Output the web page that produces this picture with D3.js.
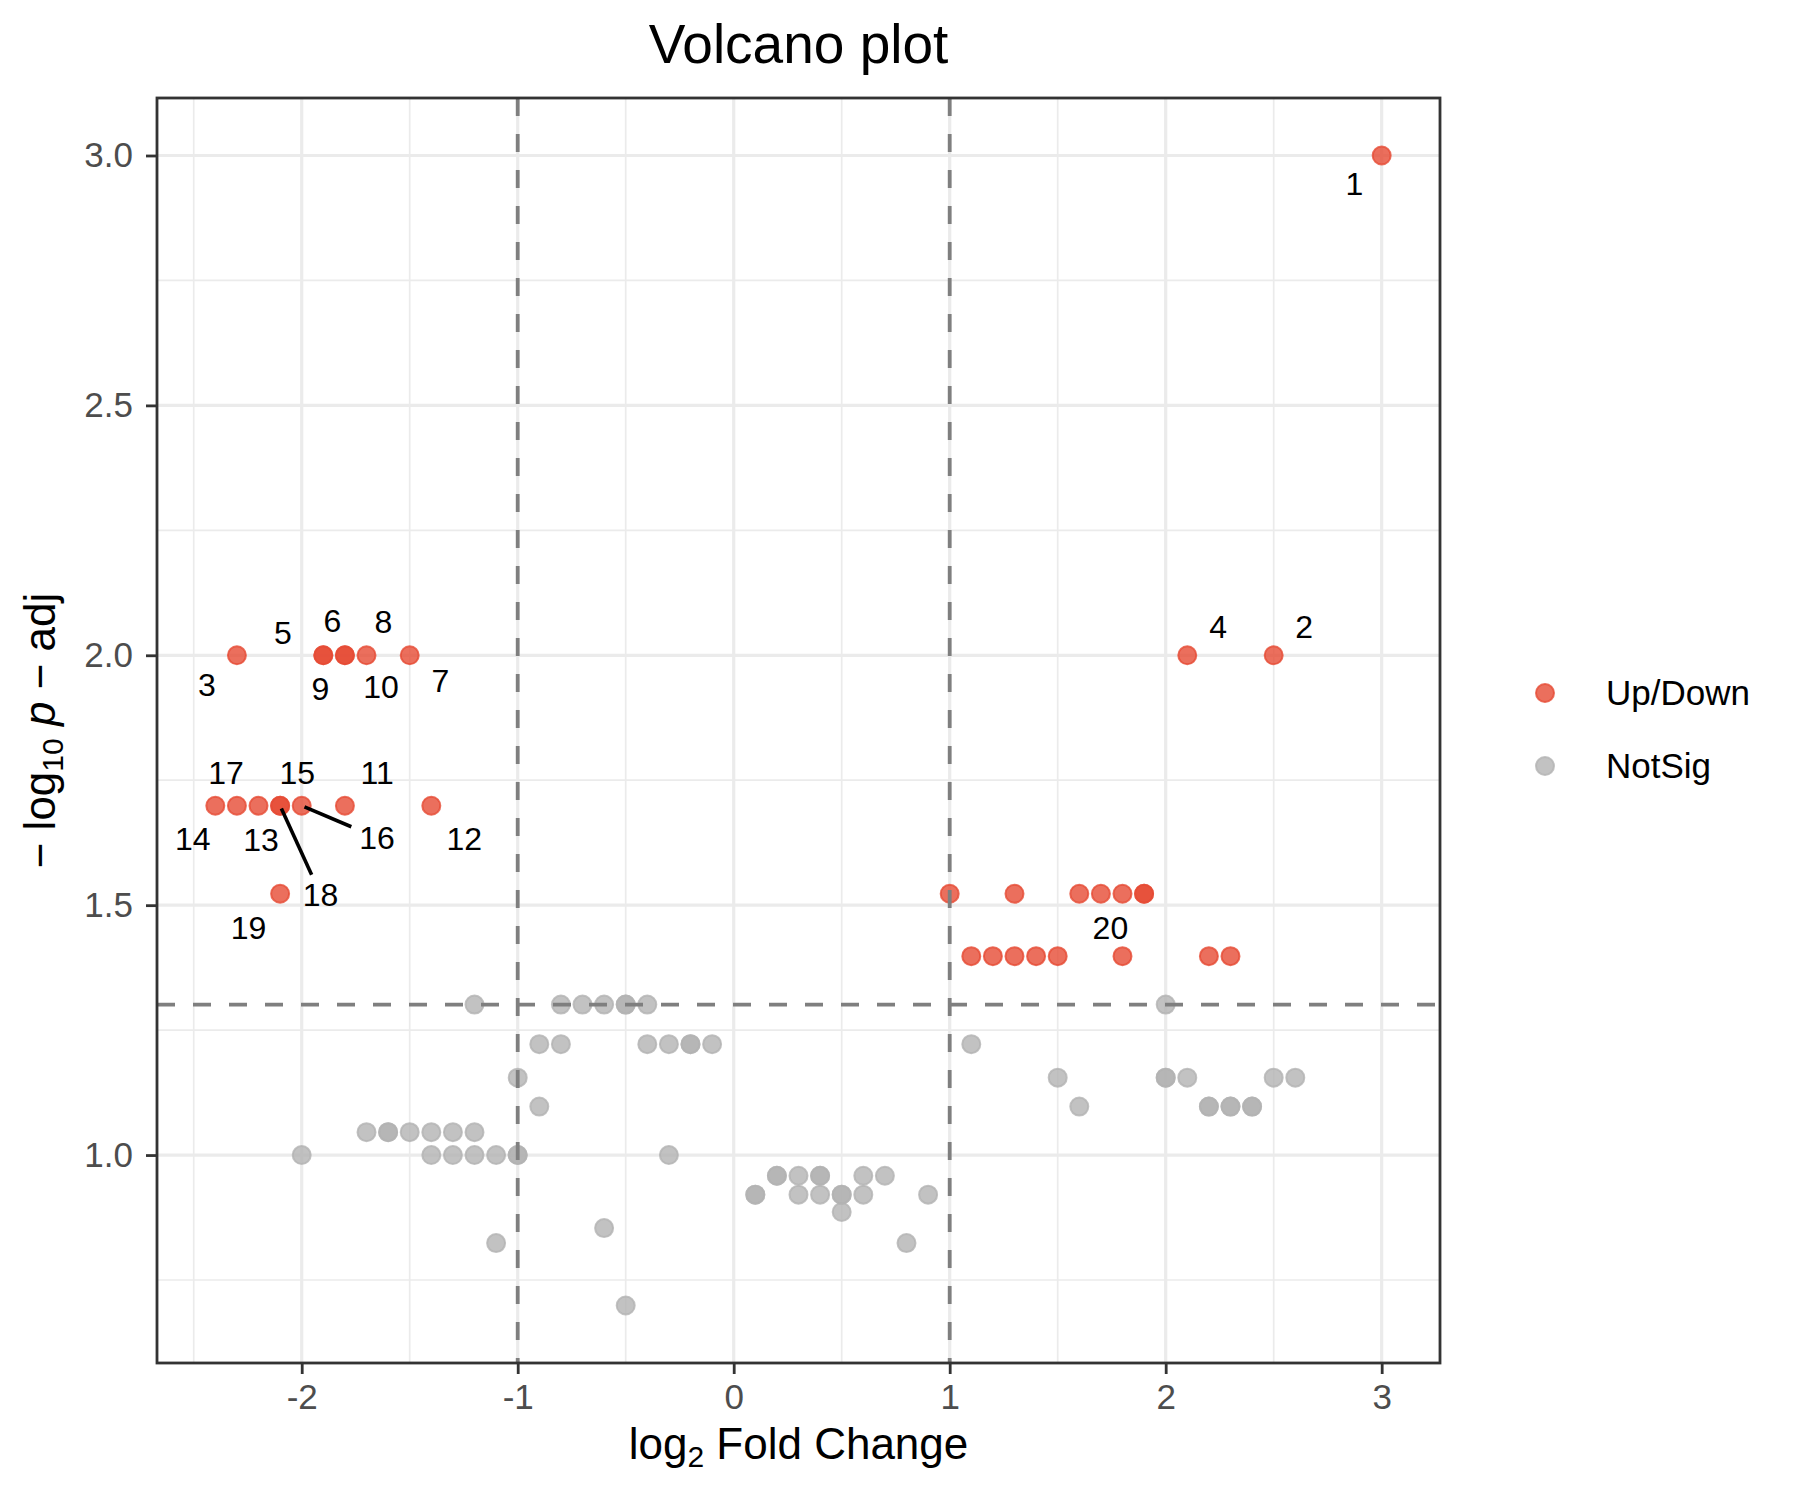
<!DOCTYPE html>
<html>
<head>
<meta charset="utf-8">
<script src="https://cdn.jsdelivr.net/npm/d3@7"></script>
<style>
  body { margin: 0; background: #fff; }
  text { font-family: "Liberation Sans", Arial, Helvetica, sans-serif; }
</style>
</head>
<body>
<div id="chart"></div>
<script>
// ---- data (log2 fold change and adjusted p value per gene) ----
// significant genes; the first 20 carry the labels 1..20
const sigFC = [
  3.0,
  2.5, -2.3, 2.1, -1.9, -1.8, -1.5, -1.7, -1.9, -1.8,
  -1.8, -1.4, -2.2, -2.4, -2.1, -2.0, -2.3, -2.1,
  -2.1, 1.7,
  1.0, 1.3, 1.6, 1.8, 1.9, 1.9,
  1.1, 1.2, 1.3, 1.4, 1.5, 1.8, 2.2, 2.3
];
const sigPadj = [
  0.001,
  0.01, 0.01, 0.01, 0.01, 0.01, 0.01, 0.01, 0.01, 0.01,
  0.02, 0.02, 0.02, 0.02, 0.02, 0.02, 0.02, 0.02,
  0.03, 0.03,
  0.03, 0.03, 0.03, 0.03, 0.03, 0.03,
  0.04, 0.04, 0.04, 0.04, 0.04, 0.04, 0.04, 0.04
];

// not significant genes
const nsFC = [
  -1.2, -0.8, -0.7, -0.6, -0.5, -0.5, -0.4, 2.0,
  -0.9, -0.8, -0.4, -0.3, -0.2, -0.2, -0.1, 1.1,
  -1.0, 1.5, 2.0, 2.0, 2.1, 2.5, 2.6,
  -0.9, 1.6, 2.2, 2.2, 2.3, 2.3, 2.4, 2.4,
  -1.7, -1.6, -1.6, -1.5, -1.4, -1.3, -1.2,
  -2.0, -1.4, -1.3, -1.2, -1.1, -1.0, -1.0, -0.3,
  0.2, 0.2, 0.3, 0.4, 0.4, 0.6, 0.7,
  0.1, 0.1, 0.3, 0.4, 0.5, 0.5, 0.6, 0.9,
  0.5,
  -0.6,
  -1.1, 0.8,
  -0.5
];
const nsPadj = [
  0.05, 0.05, 0.05, 0.05, 0.05, 0.05, 0.05, 0.05,
  0.06, 0.06, 0.06, 0.06, 0.06, 0.06, 0.06, 0.06,
  0.07, 0.07, 0.07, 0.07, 0.07, 0.07, 0.07,
  0.08, 0.08, 0.08, 0.08, 0.08, 0.08, 0.08, 0.08,
  0.09, 0.09, 0.09, 0.09, 0.09, 0.09, 0.09,
  0.1, 0.1, 0.1, 0.1, 0.1, 0.1, 0.1, 0.1,
  0.11, 0.11, 0.11, 0.11, 0.11, 0.11, 0.11,
  0.12, 0.12, 0.12, 0.12, 0.12, 0.12, 0.12, 0.12,
  0.13,
  0.14,
  0.15, 0.15,
  0.2
];

// repelled label positions (data units), label i belongs to sig gene i
const labelText = ["1", "2", "3", "4", "5", "6", "7", "8", "9", "10",
                   "11", "12", "13", "14", "15", "16", "17", "18", "19", "20"];
const labelX = [2.874, 2.641, -2.439, 2.243, -2.087, -1.858, -1.358, -1.622, -1.913, -1.633,
                -1.651, -1.247, -2.188, -2.504, -2.021, -1.651, -2.350, -1.913, -2.246, 1.744];
const labelY = [2.945, 2.058, 1.942, 2.058, 2.045, 2.069, 1.950, 2.067, 1.933, 1.937,
                1.765, 1.634, 1.631, 1.634, 1.765, 1.635, 1.765, 1.522, 1.456, 1.455];
const labelWithSegment = ["16", "18"];

// cut-offs and axis ticks
const fcCut = [-1, 1];
const padjCut = 0.05;
const xTicks = [-2, -1, 0, 1, 2, 3];
const xMinor = [-2.5, -1.5, -0.5, 0.5, 1.5, 2.5];
const yTicks = [1.0, 1.5, 2.0, 2.5, 3.0];
const yMinor = [0.75, 1.25, 1.75, 2.25, 2.75];
const groups = ["Up/Down", "NotSig"];
const groupColors = ["#E64B35", "#B3B3B3"];

// ---- layout ----
const width = 1800, height = 1500;
const panel = { left: 157, right: 1440, top: 98, bottom: 1363 };

const negLog = p => -Math.log10(p);

const sigData = sigFC.map((fc, i) => ({ fc, y: negLog(sigPadj[i]), group: 0 }));
const nsData = nsFC.map((fc, i) => ({ fc, y: negLog(nsPadj[i]), group: 1 }));
const allData = nsData.concat(sigData);

// ggplot style 5% expansion
function expand(ext) {
  const d = (ext[1] - ext[0]) * 0.05;
  return [ext[0] - d, ext[1] + d];
}

const x = d3.scaleLinear()
  .domain(expand(d3.extent(allData, d => d.fc)))
  .range([panel.left, panel.right]);

const y = d3.scaleLinear()
  .domain(expand(d3.extent(allData, d => d.y)))
  .range([panel.bottom, panel.top]);

const svg = d3.select("#chart")
  .append("svg")
  .attr("width", width)
  .attr("height", height);

svg.append("rect")
  .attr("width", width)
  .attr("height", height)
  .attr("fill", "#fff");

// grid
const grid = svg.append("g");
grid.selectAll(".xminor").data(xMinor).enter().append("line")
  .attr("x1", d => x(d)).attr("x2", d => x(d))
  .attr("y1", panel.top).attr("y2", panel.bottom)
  .attr("stroke", "#EBEBEB").attr("stroke-width", 1.7);
grid.selectAll(".yminor").data(yMinor).enter().append("line")
  .attr("y1", d => y(d)).attr("y2", d => y(d))
  .attr("x1", panel.left).attr("x2", panel.right)
  .attr("stroke", "#EBEBEB").attr("stroke-width", 1.7);
grid.selectAll(".xmajor").data(xTicks).enter().append("line")
  .attr("x1", d => x(d)).attr("x2", d => x(d))
  .attr("y1", panel.top).attr("y2", panel.bottom)
  .attr("stroke", "#EBEBEB").attr("stroke-width", 3.2);
grid.selectAll(".ymajor").data(yTicks).enter().append("line")
  .attr("y1", d => y(d)).attr("y2", d => y(d))
  .attr("x1", panel.left).attr("x2", panel.right)
  .attr("stroke", "#EBEBEB").attr("stroke-width", 3.2);

// points
svg.append("g")
  .selectAll("circle")
  .data(allData)
  .enter()
  .append("circle")
  .attr("cx", d => x(d.fc))
  .attr("cy", d => y(d.y))
  .attr("r", 9)
  .attr("fill", d => groupColors[d.group])
  .attr("fill-opacity", 0.8)
  .attr("stroke", d => groupColors[d.group])
  .attr("stroke-opacity", 0.8)
  .attr("stroke-width", 2);

// cut-off lines
const cuts = svg.append("g")
  .attr("stroke", "#7F7F7F")
  .attr("stroke-width", 3.8)
  .attr("stroke-dasharray", "18,18");
cuts.selectAll(".vcut").data(fcCut).enter().append("line")
  .attr("x1", d => x(d)).attr("x2", d => x(d))
  .attr("y1", panel.top).attr("y2", panel.bottom);
cuts.append("line")
  .attr("x1", panel.left).attr("x2", panel.right)
  .attr("y1", y(negLog(padjCut))).attr("y2", y(negLog(padjCut)));

// panel border
svg.append("rect")
  .attr("x", panel.left).attr("y", panel.top)
  .attr("width", panel.right - panel.left)
  .attr("height", panel.bottom - panel.top)
  .attr("fill", "none")
  .attr("stroke", "#333333")
  .attr("stroke-width", 2.8);

// axes
const xAxis = svg.append("g")
  .attr("transform", `translate(0,${panel.bottom})`)
  .call(d3.axisBottom(x).tickValues(xTicks).tickSize(11).tickPadding(10)
    .tickFormat(d => String(d)));
const yAxis = svg.append("g")
  .attr("transform", `translate(${panel.left},0)`)
  .call(d3.axisLeft(y).tickValues(yTicks).tickSize(11).tickPadding(13)
    .tickFormat(d => d.toFixed(1)));

[xAxis, yAxis].forEach(ax => {
  ax.select(".domain").remove();
  ax.selectAll(".tick line").attr("stroke", "#333333").attr("stroke-width", 2.8);
  ax.selectAll(".tick text")
    .attr("fill", "#4D4D4D")
    .style("font-size", "35px")
    .style("font-family", "'Liberation Sans', Arial, sans-serif");
});

// gene labels with optional segments
const labelSize = 32;
const labels = svg.append("g");
labelText.forEach((t, i) => {
  const px = x(sigData[i].fc), py = y(sigData[i].y);
  const lx = x(labelX[i]), ly = y(labelY[i]);
  const txt = labels.append("text")
    .attr("x", lx)
    .attr("y", ly)
    .attr("dy", "0.36em")
    .attr("text-anchor", "middle")
    .attr("fill", "#000")
    .style("font-size", labelSize + "px")
    .text(t);
  if (labelWithSegment.includes(t)) {
    const hw = txt.node().getComputedTextLength() / 2 + 8;
    const hh = labelSize * 0.716 / 2 + 8;
    const dx = lx - px, dy = ly - py;
    const s = Math.min(hw / Math.abs(dx), hh / Math.abs(dy));
    const len = Math.hypot(dx, dy);
    labels.append("line")
      .attr("x1", px + 3 * dx / len)
      .attr("y1", py + 3 * dy / len)
      .attr("x2", lx - s * dx)
      .attr("y2", ly - s * dy)
      .attr("stroke", "#000")
      .attr("stroke-width", 3.6);
  }
});

// legend
const legend = svg.append("g");
groups.forEach((g, i) => {
  const cy = 693 + i * 73;
  legend.append("circle")
    .attr("cx", 1545).attr("cy", cy).attr("r", 9)
    .attr("fill", groupColors[i]).attr("fill-opacity", 0.8)
    .attr("stroke", groupColors[i]).attr("stroke-opacity", 0.8)
    .attr("stroke-width", 2);
  legend.append("text")
    .attr("x", 1606).attr("y", cy + 12)
    .attr("fill", "#000")
    .style("font-size", "35px")
    .text(g);
});

// title
const cx = (panel.left + panel.right) / 2;
svg.append("text")
  .attr("x", cx).attr("y", 63)
  .attr("text-anchor", "middle")
  .attr("fill", "#000")
  .style("font-size", "55px")
  .text("Volcano plot");

// x axis title: log2 Fold Change
const xt = svg.append("text")
  .attr("x", cx).attr("y", 1459)
  .attr("text-anchor", "middle")
  .attr("fill", "#000")
  .style("font-size", "44px");
xt.append("tspan").text("log");
xt.append("tspan").attr("dy", 8).style("font-size", "30px").text("2");
xt.append("tspan").attr("dy", -8).text(" Fold Change");

// y axis title: -log10 p - adj
const yt = svg.append("text")
  .attr("transform", `translate(55,${(panel.top + panel.bottom) / 2}) rotate(-90)`)
  .attr("text-anchor", "middle")
  .attr("fill", "#000")
  .style("font-size", "44px");
yt.append("tspan").text("\u2212 log");
yt.append("tspan").attr("dy", 8).style("font-size", "30px").text("10");
yt.append("tspan").attr("dy", -8).text(" ");
yt.append("tspan").style("font-style", "italic").text("p");
yt.append("tspan").text(" \u2212 adj");
</script>
</body>
</html>
